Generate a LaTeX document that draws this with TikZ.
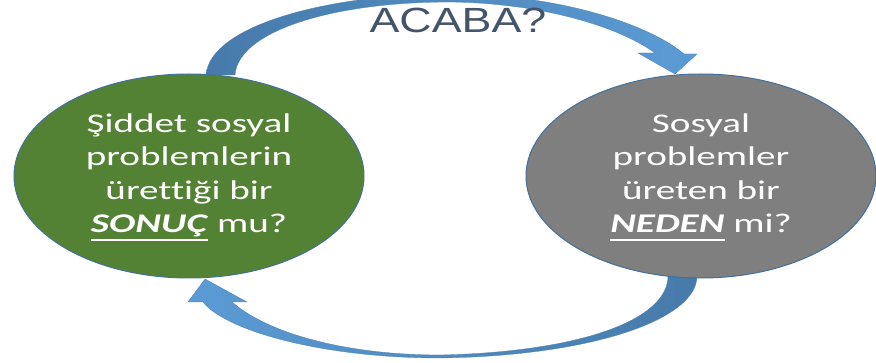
\documentclass[tikz,border=0pt]{standalone}
\usepackage{fontspec}
\setmainfont{Carlito}[Ligatures=NoCommon]
\newfontfamily\bubblefont{Carlito}[Ligatures=NoCommon, FakeStretch=1.45]
\newfontfamily\acfont{Liberation Sans}[FakeStretch=1.28]
\usetikzlibrary{shapes.geometric}
\definecolor{ellgreen}{RGB}{84,130,53}
\definecolor{ellgray}{RGB}{127,127,127}
\definecolor{ellborder}{RGB}{65,113,156}
\definecolor{arrdark}{RGB}{70,122,170}
\definecolor{arrlight}{RGB}{91,155,213}
\definecolor{titlecol}{RGB}{68,84,106}
\newlength\myulwidth
\newcommand\thickul[1]{\settowidth\myulwidth{#1}\rlap{\rule[-8.5pt]{\myulwidth}{2.4pt}}#1}
\tikzset{
  bubble/.style={ellipse, draw=ellborder, line width=1pt, minimum width=350pt, minimum height=204pt, inner sep=0pt},
  bubbletext/.style={text=white, align=center, font=\bubblefont\fontsize{27}{33.5}\selectfont, inner sep=0pt},
  curvedarrow/.style={draw=arrdark!80!arrlight, line width=0.3pt},
}
\begin{document}
\begin{tikzpicture}[x=1pt,y=-1pt]
\useasboundingbox (0,0) rectangle (876,363);
% top curved arrow (left -> right)
\path[curvedarrow, left color=arrdark, right color=arrlight]
  (206,75) .. controls (210,25) and (330,-6) .. (450,-6)
  .. controls (560,-6) and (650,25) .. (684,54)
  -- (697,54) -- (675,74) -- (638,53) -- (655,53)
  .. controls (618,26) and (540,3) .. (450,2)
  .. controls (330,2) and (238,32) .. (235,75) -- cycle;
% bottom curved arrow (right -> left)
\path[curvedarrow, left color=arrlight, right color=arrdark]
  (697,276) .. controls (697,320) and (590,356) .. (440,358)
  .. controls (320,358) and (225,330) .. (203,302)
  -- (188,302) -- (205,279) -- (247,302) -- (232,302)
  .. controls (270,335) and (350,355) .. (440,355)
  .. controls (580,352) and (668,320) .. (668,276) -- cycle;
% ellipses
\node[bubble, fill=ellgreen] (sonuc) at (189,176) {};
\node[bubble, fill=ellgray] (neden) at (701,176) {};
\node[bubbletext] (sonuctext) at (189,177.5) {Şiddet sosyal\\problemlerin\\ürettiği bir\\\thickul{\textbf{\textit{SONUÇ}}} mu?};
\node[bubbletext] (nedentext) at (701,177.5) {Sosyal\\problemler\\üreten bir\\\thickul{\textbf{\textit{NEDEN}}} mi?};
\node[font=\acfont\fontsize{35}{42}\selectfont, text=titlecol, anchor=base] (acaba) at (458,33) {ACABA?};
\end{tikzpicture}
\end{document}
